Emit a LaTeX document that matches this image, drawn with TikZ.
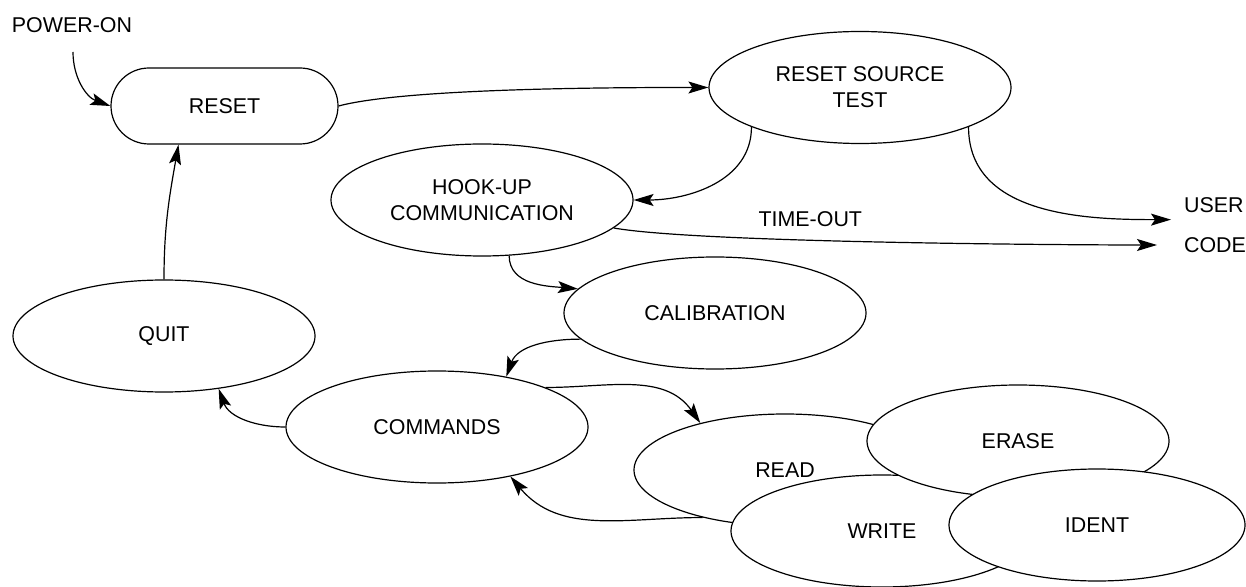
\documentclass[tikz,border=0pt]{standalone}
\usepackage{fontspec}
\setmainfont{Liberation Sans}
\usetikzlibrary{arrows.meta,shapes.geometric}
\begin{document}
\begin{tikzpicture}[x=0.5pt,y=-0.5pt]
  \tikzset{
    state/.style={ellipse,draw,fill=white,line width=0.6pt,minimum width=151pt,minimum height=56pt,inner sep=0pt,align=center},
    trans/.style={-{Stealth[length=10pt,width=6pt,inset=2pt]},line width=0.6pt},
    every node/.style={font=\fontsize{10.7pt}{13pt}\selectfont},
  }
  \useasboundingbox (0,0) rectangle (1246,587);
  \node (pwron) at (72,25) {POWER-ON};
  \coordinate (pwr) at (73,52);
  \node[draw,line width=0.6pt,rounded corners=19pt,minimum width=113.5pt,minimum height=38pt] (reset) at (224.5,106) {RESET};
  \node[state] (rst)   at (860,87.5) {RESET SOURCE\\TEST};
  \node[state] (hook)  at (482,200)  {HOOK-UP\\COMMUNICATION};
  \node[state] (calib) at (715,313)  {CALIBRATION};
  \node[state] (quit)  at (164,336)  {QUIT};
  \node[state] (cmds)  at (437,427)  {COMMANDS};
  \node[state] (read)  at (785,470)  {READ};
  \node[state] (write) at (882,531)  {WRITE};
  \node[state] (erase) at (1018,441) {ERASE};
  \node[state,minimum width=148pt] (ident) at (1097,525) {IDENT};
  \node[anchor=west] (user) at (1177,205) {USER};
  \node[anchor=west] (code) at (1177,245) {CODE};
  \draw[trans] (pwr) to[out=-90,in=160] (reset.west);
  \draw[trans] (reset.east) to[out=15,in=180,looseness=0.5] (rst.west);
  \draw[trans] (rst.200) to[out=-90,in=0] (hook.east);
  \draw[trans,shorten >=3pt] (rst.340) to[out=-90,in=180] (user.south west);
  \draw[trans,shorten >=10pt] (hook.348) to[out=-10,in=180,looseness=0.4] node[pos=0.38,above=3pt] {TIME-OUT} (code.west);
  \draw[trans] (hook.296) to[out=-90,in=175] (calib.170);
  \draw[trans] (calib.191) to[out=180,in=70] (cmds.36);
  \draw[trans] (cmds.20) to[out=0,in=125] (read.151);
  \draw[trans] (read.210) to[out=180,in=-50] (cmds.326);
  \draw[trans] (cmds.west) to[out=180,in=-70] (quit.316);
  \draw[trans] (quit.north) to[out=90,in=-100] (reset.220.5);
\end{tikzpicture}
\end{document}
